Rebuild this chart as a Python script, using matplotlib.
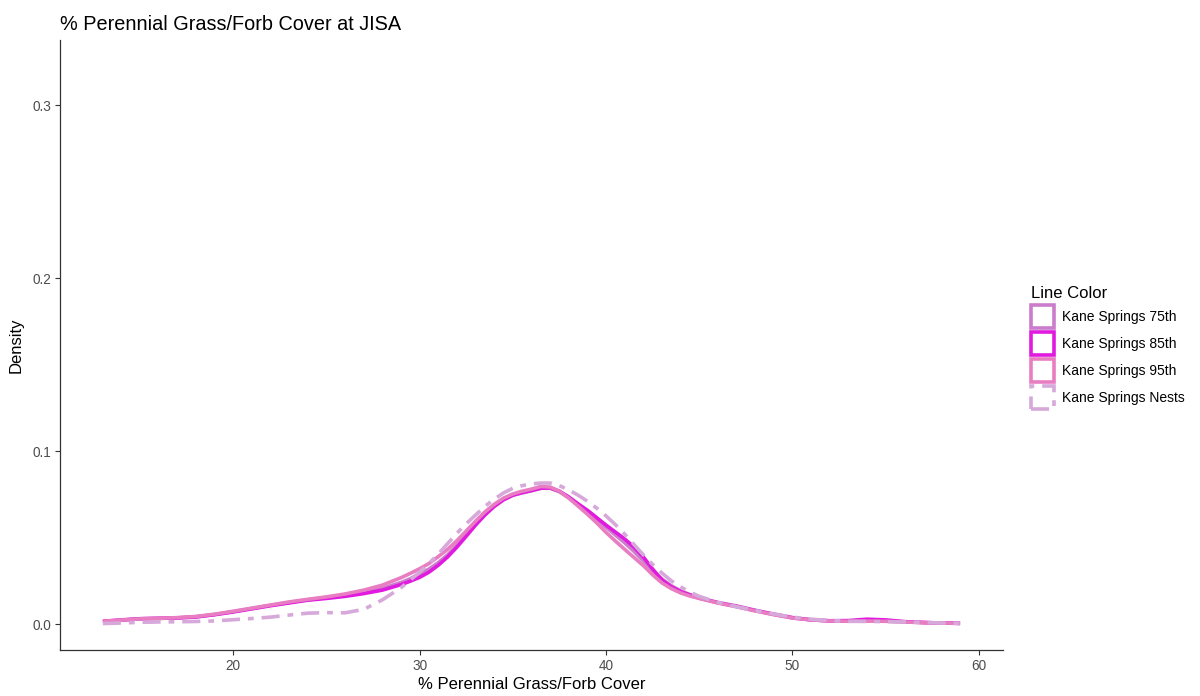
import matplotlib
matplotlib.use("Agg")
import matplotlib.pyplot as plt
from matplotlib.patches import Rectangle

plt.rcParams['font.family'] = ['Liberation Sans', 'DejaVu Sans']

# Shared evaluation grid for the density curves (% cover)
cover = [13, 14, 15, 16, 17, 18, 19, 20, 21, 22, 23, 24, 25, 26, 27, 28, 29,
         29.5, 30, 30.5, 31, 31.5, 32, 32.5, 33, 33.5, 34, 34.5, 35, 35.5, 36,
         36.5, 37, 37.5, 38, 38.5, 39, 39.5, 40, 40.5, 41, 41.5, 42, 42.5, 43,
         43.5, 44, 44.5, 45, 46, 47, 48, 49, 50, 51, 52, 53, 54, 55, 56, 57,
         58, 59]

dens_75 = [0.0015, 0.0022, 0.0030, 0.0033, 0.0036, 0.0042, 0.0055, 0.0072,
           0.0090, 0.0108, 0.0125, 0.0140, 0.0152, 0.0166, 0.0184, 0.0206,
           0.0240, 0.0262, 0.0290, 0.0318, 0.0355, 0.0400, 0.0455, 0.0515,
           0.0578, 0.0635, 0.0682, 0.0720, 0.0745, 0.0758, 0.0770, 0.0785,
           0.0785, 0.0765, 0.0730, 0.0690, 0.0650, 0.0605, 0.0560, 0.0515,
           0.0470, 0.0420, 0.0365, 0.0310, 0.0260, 0.0222, 0.0192, 0.0170,
           0.0152, 0.0125, 0.0105, 0.0080, 0.0058, 0.0038, 0.0025, 0.0018,
           0.0017, 0.0019, 0.0018, 0.0013, 0.0009, 0.0006, 0.0004]

dens_85 = [0.0016, 0.0024, 0.0031, 0.0033, 0.0035, 0.0041, 0.0054, 0.0070,
           0.0088, 0.0106, 0.0122, 0.0138, 0.0148, 0.0160, 0.0176, 0.0196,
           0.0228, 0.0248, 0.0270, 0.0300, 0.0340, 0.0388, 0.0445, 0.0508,
           0.0572, 0.0630, 0.0680, 0.0718, 0.0745, 0.0760, 0.0772, 0.0785,
           0.0787, 0.0768, 0.0735, 0.0695, 0.0658, 0.0615, 0.0572, 0.0532,
           0.0492, 0.0445, 0.0388, 0.0318, 0.0255, 0.0215, 0.0188, 0.0168,
           0.0150, 0.0123, 0.0102, 0.0078, 0.0056, 0.0036, 0.0024, 0.0019,
           0.0020, 0.0028, 0.0024, 0.0014, 0.0009, 0.0006, 0.0004]

dens_95 = [0.0016, 0.0023, 0.0030, 0.0033, 0.0037, 0.0044, 0.0057, 0.0074,
           0.0092, 0.0110, 0.0128, 0.0143, 0.0157, 0.0174, 0.0196, 0.0225,
           0.0268, 0.0293, 0.0320, 0.0350, 0.0390, 0.0432, 0.0482, 0.0538,
           0.0595, 0.0648, 0.0692, 0.0728, 0.0752, 0.0768, 0.0780, 0.0795,
           0.0792, 0.0768, 0.0728, 0.0682, 0.0635, 0.0585, 0.0530, 0.0480,
           0.0432, 0.0385, 0.0338, 0.0285, 0.0238, 0.0205, 0.0180, 0.0162,
           0.0148, 0.0122, 0.0100, 0.0076, 0.0054, 0.0035, 0.0024, 0.0018,
           0.0016, 0.0017, 0.0016, 0.0012, 0.0008, 0.0006, 0.0004]

dens_nests = [0.0003, 0.0006, 0.0010, 0.0012, 0.0013, 0.0015, 0.0018, 0.0025,
              0.0032, 0.0040, 0.0052, 0.0063, 0.0066, 0.0065, 0.0085, 0.0140,
              0.0210, 0.0255, 0.0300, 0.0350, 0.0405, 0.0465, 0.0525, 0.0580,
              0.0630, 0.0680, 0.0722, 0.0758, 0.0785, 0.0800, 0.0810, 0.0815,
              0.0815, 0.0800, 0.0775, 0.0745, 0.0710, 0.0670, 0.0625, 0.0575,
              0.0520, 0.0460, 0.0400, 0.0345, 0.0295, 0.0250, 0.0215, 0.0185,
              0.0160, 0.0125, 0.0100, 0.0078, 0.0058, 0.0040, 0.0028, 0.0020,
              0.0016, 0.0015, 0.0014, 0.0012, 0.0009, 0.0006, 0.0004]

series_names = ["Kane Springs 75th", "Kane Springs 85th",
                "Kane Springs 95th", "Kane Springs Nests"]
series_vals = [dens_75, dens_85, dens_95, dens_nests]
series_colors = ["#CC7CCC", "#E01ADF", "#E87DC2", "#D6A9DA"]
series_styles = ["-", "-", "-", (0, (5, 2.2, 1.6, 2.2))]

x_ticks = [20, 30, 40, 50, 60]
y_ticks = [0.0, 0.1, 0.2, 0.3]
y_tick_labels = ["0.0", "0.1", "0.2", "0.3"]

fig = plt.figure(figsize=(12, 6.96), dpi=100)
ax = fig.add_axes([0.05, 0.0661, 0.7858, 0.8764])

for vals, col, ls in zip(series_vals, series_colors, series_styles):
    ax.plot(cover, vals, color=col, linestyle=ls, linewidth=2.6,
            solid_capstyle="butt", dash_capstyle="butt", solid_joinstyle="round")

ax.set_xlim(10.7, 61.3)
ax.set_ylim(-0.015, 0.3376)
ax.set_xticks(x_ticks)
ax.set_xticklabels([str(t) for t in x_ticks])
ax.set_yticks(y_ticks)
ax.set_yticklabels(y_tick_labels)

for side in ("top", "right"):
    ax.spines[side].set_visible(False)
for side in ("left", "bottom"):
    ax.spines[side].set_color("#333333")
    ax.spines[side].set_linewidth(0.9)
ax.tick_params(axis="both", direction="out", length=3.5, width=0.8,
               color="#333333", labelcolor="#4D4D4D", labelsize=9.8, pad=3)

ax.set_xlabel("% Perennial Grass/Forb Cover", fontsize=12, color="black", labelpad=3)
ax.set_ylabel("Density", fontsize=12, color="black", labelpad=6)
ax.set_title("% Perennial Grass/Forb Cover at JISA", fontsize=14.3,
             loc="left", pad=7, color="black")

# Legend keys drawn as outlined boxes, one per group
handles = [Rectangle((0, 0), 1, 1, facecolor="none", edgecolor=c,
                     linewidth=2.6, linestyle=ls)
           for c, ls in zip(series_colors, series_styles)]
fig.legend(handles, series_names, title="Line Color", loc="upper left",
           bbox_to_anchor=(0.859, 0.5885), frameon=False, fontsize=10,
           title_fontsize=12, handlelength=1.65, handleheight=2.17,
           handletextpad=0.6, labelspacing=0.29, alignment="left",
           borderaxespad=0, borderpad=0)

fig.savefig("out.png", dpi=100)
